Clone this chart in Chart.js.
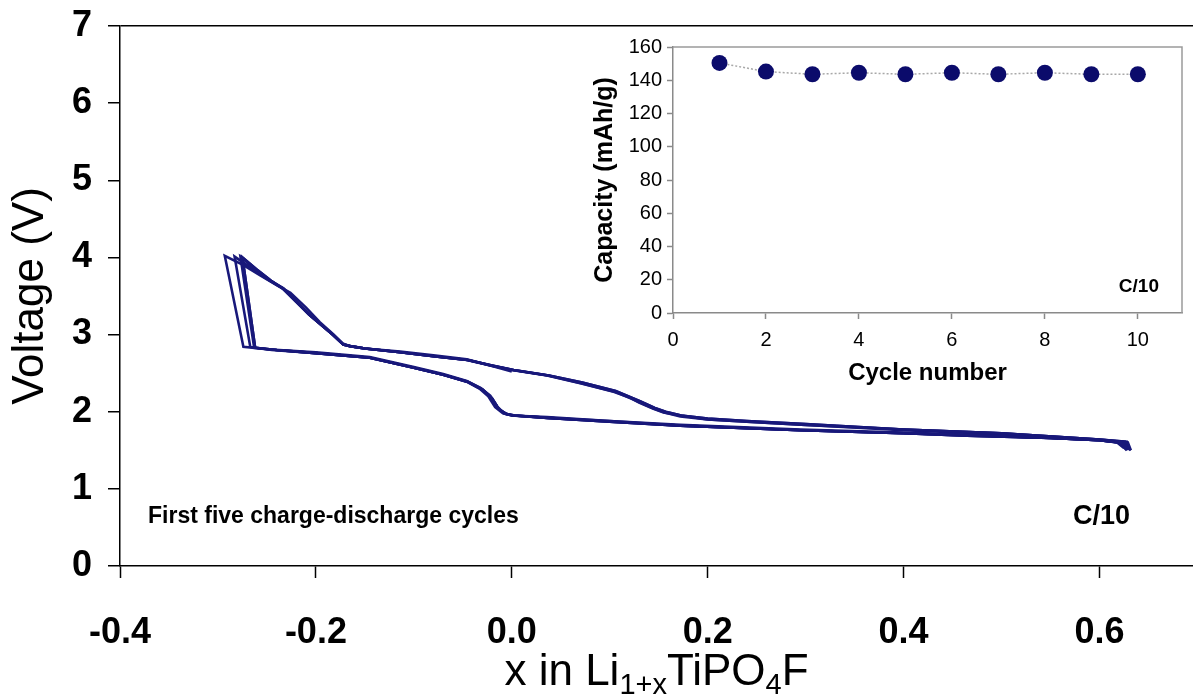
<!DOCTYPE html>
<html>
<head>
<meta charset="utf-8">
<title>Li1+xTiPO4F cycling</title>
<script src="https://cdn.jsdelivr.net/npm/chart.js@4.4.1/dist/chart.umd.min.js"></script>
<style>
  html, body { margin: 0; padding: 0; background: #fff; overflow: hidden; }
  #wrap { position: relative; width: 1193px; height: 696px; }
  #main { position: absolute; left: 0; top: 0; }
  #inset { position: absolute; left: 590px; top: 30px; }
</style>
</head>
<body>
<div id="wrap">
  <canvas id="main" width="1193" height="696"></canvas>
  <canvas id="inset" width="603" height="360"></canvas>
</div>
<script>
// ===== Data =====
// voltage profiles, [x in Li1+xTiPO4F, voltage V]; each cycle = charge then discharge
const cycle1 = [
  [0.000, 2.52], [-0.022, 2.60], [-0.046, 2.67], [-0.080, 2.72], [-0.114, 2.77], [-0.150, 2.82],
  [-0.165, 2.85], [-0.172, 2.88], [-0.182, 3.00], [-0.196, 3.16], [-0.210, 3.35], [-0.226, 3.54],
  [-0.240, 3.64], [-0.256, 3.76], [-0.274, 3.90], [-0.293, 4.02],
  [-0.274, 2.84], [-0.250, 2.81], [-0.200, 2.77], [-0.145, 2.71], [-0.100, 2.58], [-0.070, 2.49],
  [-0.046, 2.40], [-0.032, 2.31], [-0.022, 2.21], [-0.015, 2.07], [-0.008, 1.98], [0.000, 1.95],
  [0.036, 1.93], [0.100, 1.88], [0.172, 1.83], [0.295, 1.77], [0.400, 1.73], [0.465, 1.70],
  [0.550, 1.66], [0.600, 1.63], [0.622, 1.60], [0.632, 1.50]
];
const cycle2 = [
  [0.632, 1.50], [0.629, 1.60], [0.600, 1.64], [0.500, 1.72], [0.400, 1.77], [0.300, 1.83],
  [0.240, 1.87], [0.200, 1.90], [0.172, 1.95], [0.155, 1.99], [0.144, 2.04], [0.130, 2.12],
  [0.121, 2.18], [0.104, 2.26], [0.070, 2.37], [0.036, 2.47], [0.000, 2.54], [-0.022, 2.60],
  [-0.046, 2.68], [-0.080, 2.73], [-0.114, 2.78], [-0.150, 2.82], [-0.165, 2.85], [-0.172, 2.87],
  [-0.182, 2.99], [-0.206, 3.25], [-0.233, 3.59], [-0.250, 3.72], [-0.268, 3.88], [-0.283, 4.01],
  [-0.267, 2.84], [-0.245, 2.80], [-0.200, 2.76], [-0.145, 2.70], [-0.100, 2.57], [-0.070, 2.48],
  [-0.046, 2.39], [-0.033, 2.30], [-0.024, 2.20], [-0.017, 2.06], [-0.009, 1.98], [0.000, 1.95],
  [0.036, 1.92], [0.100, 1.88], [0.172, 1.82], [0.295, 1.76], [0.400, 1.72], [0.465, 1.70],
  [0.550, 1.66], [0.600, 1.63], [0.620, 1.60], [0.628, 1.50]
];
const cycle3 = [
  [0.628, 1.50], [0.627, 1.60], [0.600, 1.63], [0.500, 1.71], [0.400, 1.76], [0.300, 1.83],
  [0.240, 1.87], [0.200, 1.90], [0.172, 1.94], [0.156, 1.99], [0.145, 2.04], [0.131, 2.12],
  [0.122, 2.17], [0.105, 2.26], [0.071, 2.37], [0.037, 2.47], [0.001, 2.54], [-0.021, 2.60],
  [-0.045, 2.67], [-0.080, 2.72], [-0.114, 2.77], [-0.150, 2.82], [-0.165, 2.85], [-0.172, 2.87],
  [-0.183, 3.00], [-0.207, 3.26], [-0.233, 3.60], [-0.248, 3.71], [-0.263, 3.86], [-0.277, 4.01],
  [-0.263, 2.83], [-0.240, 2.80], [-0.200, 2.76], [-0.145, 2.70], [-0.100, 2.57], [-0.070, 2.48],
  [-0.046, 2.39], [-0.031, 2.29], [-0.021, 2.18], [-0.014, 2.04], [-0.006, 1.97], [0.002, 1.95],
  [0.036, 1.92], [0.100, 1.87], [0.172, 1.82], [0.295, 1.76], [0.400, 1.72], [0.465, 1.69],
  [0.550, 1.66], [0.600, 1.63], [0.621, 1.60], [0.630, 1.51]
];
const cycle4 = [
  [0.630, 1.51], [0.628, 1.61], [0.600, 1.64], [0.500, 1.72], [0.400, 1.77], [0.300, 1.84],
  [0.240, 1.88], [0.200, 1.91], [0.173, 1.95], [0.157, 2.00], [0.146, 2.05], [0.132, 2.13],
  [0.123, 2.18], [0.106, 2.27], [0.072, 2.38], [0.038, 2.47], [0.002, 2.54], [-0.020, 2.60],
  [-0.045, 2.67], [-0.080, 2.72], [-0.114, 2.77], [-0.150, 2.82], [-0.165, 2.85], [-0.172, 2.87],
  [-0.183, 3.00], [-0.207, 3.26], [-0.234, 3.60], [-0.246, 3.70], [-0.261, 3.85], [-0.275, 4.00],
  [-0.262, 2.83], [-0.240, 2.80], [-0.200, 2.76], [-0.145, 2.70], [-0.100, 2.57], [-0.070, 2.48],
  [-0.045, 2.39], [-0.030, 2.29], [-0.020, 2.17], [-0.013, 2.03], [-0.005, 1.97], [0.003, 1.95],
  [0.037, 1.92], [0.100, 1.87], [0.172, 1.82], [0.295, 1.76], [0.400, 1.72], [0.465, 1.69],
  [0.550, 1.66], [0.600, 1.63], [0.619, 1.60], [0.627, 1.52]
];
const cycle5 = [
  [0.627, 1.52], [0.626, 1.61], [0.600, 1.64], [0.500, 1.72], [0.400, 1.77], [0.300, 1.84],
  [0.240, 1.88], [0.200, 1.91], [0.173, 1.95], [0.157, 2.00], [0.146, 2.05], [0.132, 2.13],
  [0.123, 2.18], [0.106, 2.27], [0.072, 2.38], [0.038, 2.47], [0.002, 2.54], [-0.020, 2.60],
  [-0.045, 2.67], [-0.080, 2.72], [-0.114, 2.77], [-0.150, 2.82], [-0.165, 2.85], [-0.172, 2.87],
  [-0.183, 3.00], [-0.207, 3.26], [-0.234, 3.60], [-0.246, 3.70], [-0.261, 3.85], [-0.275, 4.00],
  [-0.262, 2.83], [-0.240, 2.80], [-0.200, 2.76], [-0.145, 2.70], [-0.100, 2.57], [-0.070, 2.48],
  [-0.045, 2.39], [-0.030, 2.29], [-0.020, 2.17], [-0.013, 2.03], [-0.005, 1.97], [0.003, 1.95],
  [0.037, 1.92], [0.100, 1.87], [0.172, 1.82], [0.295, 1.76], [0.400, 1.72], [0.465, 1.69],
  [0.550, 1.66], [0.600, 1.63], [0.618, 1.60], [0.625, 1.53]
];
const cycles = [cycle1, cycle2, cycle3, cycle4, cycle5];

const xTicks = [-0.4, -0.2, 0.0, 0.2, 0.4, 0.6];
const xTitleParts = [['x in Li', false], ['1+x', true], ['TiPO', false], ['4', true], ['F', false]];
const mainNotes = ['First five charge-discharge cycles', 'C/10'];

// inset: capacity per cycle
const cycleNumbers = [1, 2, 3, 4, 5, 6, 7, 8, 9, 10];
const capacities = [150.4, 145.2, 143.6, 144.5, 143.6, 144.5, 143.6, 144.5, 143.6, 143.6];
const insetXTicks = [0, 2, 4, 6, 8, 10];
const insetNote = 'C/10';

const FONT = '"Liberation Sans", Arial, Helvetica, sans-serif';
Chart.defaults.font.family = FONT;
Chart.defaults.color = '#000';

const navy = '#18187a';

// ===== Main chart =====
const mainText = {
  id: 'mainText',
  afterDraw(chart) {
    const { ctx, chartArea } = chart;
    ctx.save();
    ctx.fillStyle = '#000';
    ctx.textBaseline = 'alphabetic';

    // x axis title, with subscripts
    const big = '44px ' + FONT, small = '29px ' + FONT;
    let total = 0;
    xTitleParts.forEach(([t, sub]) => { ctx.font = sub ? small : big; total += ctx.measureText(t).width; });
    let x = (chartArea.left + chartArea.right) / 2 - total / 2;
    const base = 685;
    xTitleParts.forEach(([t, sub]) => {
      ctx.font = sub ? small : big;
      ctx.fillText(t, x, sub ? base + 9 : base);
      x += ctx.measureText(t).width;
    });

    // notes inside the plot
    ctx.textBaseline = 'middle';
    ctx.textAlign = 'left';
    ctx.font = 'bold 23px ' + FONT;
    ctx.fillText(mainNotes[0], 148, 517);
    ctx.textAlign = 'right';
    ctx.font = 'bold 27px ' + FONT;
    ctx.fillText(mainNotes[1], 1130, 517);
    ctx.restore();
  }
};

new Chart(document.getElementById('main'), {
  type: 'scatter',
  data: {
    datasets: cycles.map((c, i) => ({
      label: 'Cycle ' + (i + 1),
      data: c.map(p => ({ x: p[0], y: p[1] })),
      showLine: true,
      borderColor: navy,
      borderWidth: 2.6,
      pointRadius: 0,
      tension: 0,
      fill: false
    }))
  },
  options: {
    responsive: false,
    animation: false,
    layout: { padding: { top: 26, right: 0, left: 0, bottom: 0 } },
    plugins: { legend: { display: false }, tooltip: { enabled: false } },
    scales: {
      x: {
        type: 'linear',
        min: -0.4,
        max: 0.6955,
        afterBuildTicks: s => { s.ticks = xTicks.map(v => ({ value: v })); },
        afterFit: s => { s.height = 130; s.paddingLeft = 0; s.paddingRight = 0; },
        ticks: {
          font: { size: 36, weight: 'bold' },
          color: '#000',
          padding: 33,
          maxRotation: 0,
          callback: v => Number(v).toFixed(1)
        },
        grid: { drawOnChartArea: false, tickLength: 12, tickColor: '#000', tickWidth: 1.5 },
        border: { color: '#000', width: 1.5 }
      },
      y: {
        min: 0,
        max: 7,
        afterFit: s => { s.width = 120; s.paddingTop = 0; s.paddingBottom = 0; },
        ticks: { stepSize: 1, font: { size: 36, weight: 'bold' }, color: '#000', padding: 16 },
        grid: {
          color: c => (c.tick && c.tick.value === 7) ? '#000' : 'rgba(0,0,0,0)',
          lineWidth: 1.5,
          tickLength: 12,
          tickColor: '#000',
          tickWidth: 1.5
        },
        border: { color: '#000', width: 1.5 },
        title: {
          display: true,
          text: 'Voltage (V)',
          font: { size: 44, weight: 'normal' },
          color: '#000',
          padding: { top: 4, bottom: 0 }
        }
      }
    }
  },
  plugins: [mainText]
});

// ===== Inset chart =====
const insetDecor = {
  id: 'insetDecor',
  afterDraw(chart) {
    const { ctx, chartArea: a } = chart;
    ctx.save();
    ctx.strokeStyle = '#9a9a9a';
    ctx.lineWidth = 1.5;
    ctx.beginPath();
    ctx.moveTo(a.left, a.top);
    ctx.lineTo(a.right, a.top);
    ctx.lineTo(a.right, a.bottom);
    ctx.stroke();
    ctx.fillStyle = '#000';
    ctx.font = 'bold 19px ' + FONT;
    ctx.textAlign = 'right';
    ctx.textBaseline = 'middle';
    ctx.fillText(insetNote, a.right - 23, a.bottom - 26);
    ctx.restore();
  }
};

new Chart(document.getElementById('inset'), {
  type: 'line',
  data: {
    datasets: [{
      label: 'Capacity',
      data: cycleNumbers.map((n, i) => ({ x: n, y: capacities[i] })),
      borderColor: '#a8a8a8',
      borderWidth: 1.5,
      borderDash: [2, 2],
      pointRadius: 8,
      pointBackgroundColor: '#0b0b6b',
      pointBorderWidth: 0,
      tension: 0
    }]
  },
  options: {
    responsive: false,
    animation: false,
    layout: { padding: { top: 17, right: 11, left: 0, bottom: 0 } },
    plugins: { legend: { display: false }, tooltip: { enabled: false } },
    scales: {
      x: {
        type: 'linear',
        min: 0,
        max: 10.95,
        afterBuildTicks: s => { s.ticks = insetXTicks.map(v => ({ value: v })); },
        afterFit: s => { s.height = 77; },
        ticks: { font: { size: 20 }, color: '#000', padding: 9, maxRotation: 0 },
        grid: { drawOnChartArea: false, tickLength: 6, tickColor: '#8a8a8a', tickWidth: 1.5 },
        border: { color: '#8a8a8a', width: 1.5 },
        title: {
          display: true,
          text: 'Cycle number',
          font: { size: 24, weight: 'bold' },
          color: '#000',
          padding: { top: 0, bottom: 2 }
        }
      },
      y: {
        min: 0,
        max: 160,
        afterFit: s => { s.width = 83; },
        ticks: { stepSize: 20, font: { size: 20 }, color: '#000', padding: 5 },
        grid: { drawOnChartArea: false, tickLength: 6, tickColor: '#8a8a8a', tickWidth: 1.5 },
        border: { color: '#8a8a8a', width: 1.5 },
        title: {
          display: true,
          text: 'Capacity (mAh/g)',
          font: { size: 25, weight: 'bold' },
          color: '#000',
          padding: { top: 0, bottom: 0 }
        }
      }
    }
  },
  plugins: [insetDecor]
});
</script>
</body>
</html>
